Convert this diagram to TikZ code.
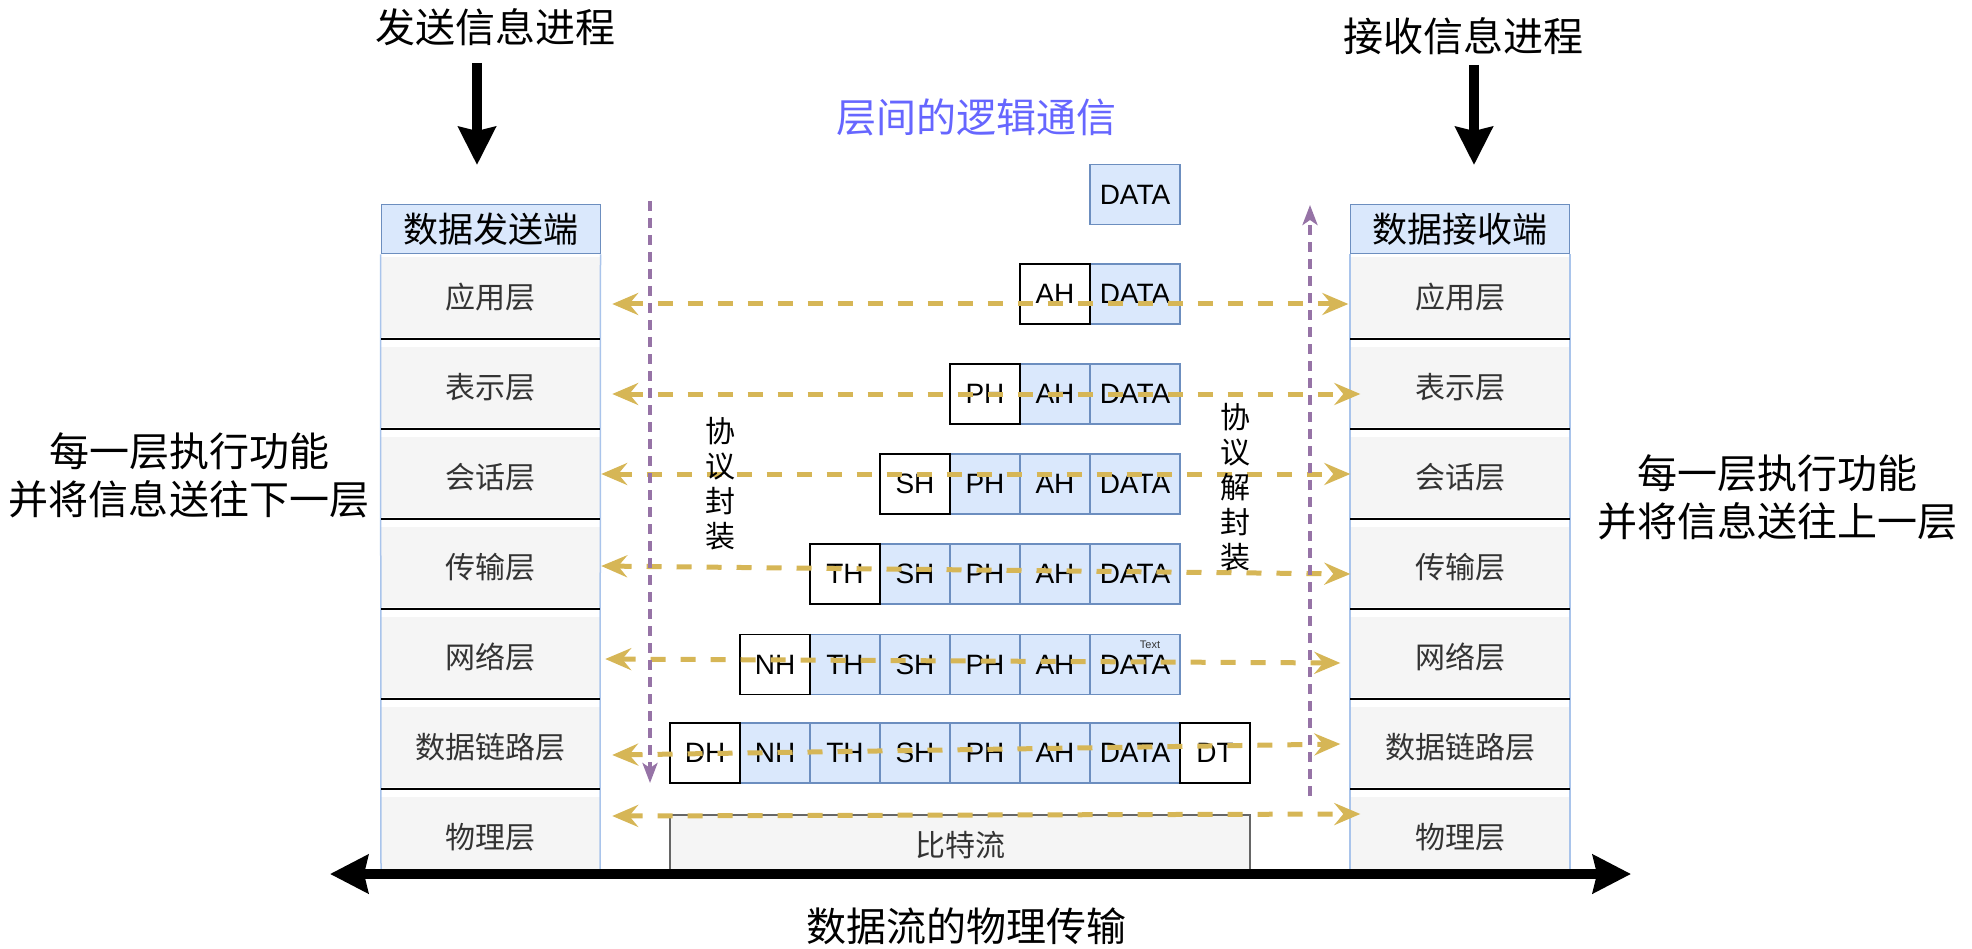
\documentclass[tikz,border=0pt]{standalone}
\usepackage{fontspec}
\setmainfont{Liberation Sans}
\newfontfamily\hanzi{Noto Sans CJK SC}
\usetikzlibrary{arrows.meta, positioning}
\definecolor{goldline}{HTML}{D6B656}
\definecolor{purpleline}{HTML}{9673A6}
\definecolor{cellblue}{HTML}{DAE8FC}
\definecolor{celledge}{HTML}{6C8EBF}
\definecolor{layergray}{HTML}{F5F5F5}
\definecolor{stackedge}{HTML}{A9C4EB}
\definecolor{labelgray}{HTML}{333333}
\definecolor{titleblue}{HTML}{6666FF}
\tikzset{
  bigtext/.style={inner sep=0pt, font=\hanzi\fontsize{40}{48}\selectfont},
  headbox/.style={fill=cellblue, draw=celledge, line width=1pt, minimum width=219pt, minimum height=49pt, inner sep=0pt, font=\hanzi\fontsize{35}{35}\selectfont},
  layer/.style={fill=layergray, minimum width=219pt, minimum height=80pt, inner sep=0pt, text=labelgray, font=\hanzi\fontsize{30}{30}\selectfont},
  cell/.style={fill=cellblue, draw=celledge, line width=1.2pt, minimum width=70pt, minimum height=60pt, inner sep=0pt, outer sep=0pt, font=\fontsize{28}{28}\selectfont},
  newcell/.style={cell, fill=white, draw=black},
  datacell/.style={cell, minimum width=90pt},
  link/.style={draw=goldline, line width=5pt, dash pattern=on 15pt off 15pt, {Stealth[length=26pt,width=22pt,inset=9pt]}-{Stealth[length=26pt,width=22pt,inset=9pt]}},
  wrap/.style={draw=purpleline, line width=3.5pt, dash pattern=on 10pt off 7pt, -{Stealth[length=20pt,width=15pt,inset=5pt]}},
  fat/.style={line width=10pt, -{Stealth[length=38pt,width=37pt,inset=4pt]}},
  sep/.style={line width=1.5pt}
}

\begin{document}
\begin{tikzpicture}[x=1pt, y=-1pt]
  \useasboundingbox (0,0) rectangle (1972,949);
  % titles
  \node[bigtext] (send) at (495,27) {发送信息进程};
  \node[bigtext] (recv) at (1463,36) {接收信息进程};
  \node[bigtext, text=titleblue] (logic) at (976,117) {层间的逻辑通信};
  \node[bigtext, align=center] (downnote) at (189,475) {每一层执行功能\\并将信息送往下一层};
  \node[bigtext, align=center] (upnote) at (1777,497) {每一层执行功能\\并将信息送往上一层};
  \node[bigtext] (phys) at (966,926) {数据流的物理传输};
  % sending stack
  \node[headbox] (sendhead) at (490.5,229.5) {数据发送端};
  \node[layer] (sl1) at (490.5,297) {应用层};
  \node[layer] (sl2) at (490.5,387) {表示层};
  \node[layer] (sl3) at (490.5,477) {会话层};
  \node[layer] (sl4) at (490.5,567) {传输层};
  \node[layer] (sl5) at (490.5,657) {网络层};
  \node[layer] (sl6) at (490.5,747) {数据链路层};
  \node[layer] (sl7) at (490.5,837) {物理层};
  \draw[stackedge, line width=1.5pt] (sendhead.south west) -- (381,870) (sendhead.south east) -- (600,870);
  \draw[sep] (381,339) -- (600,339) (381,429) -- (600,429) (381,519) -- (600,519)
    (381,609) -- (600,609) (381,699) -- (600,699) (381,789) -- (600,789);
  % receiving stack
  \node[headbox] (recvhead) at (1460,229.5) {数据接收端};
  \node[layer] (rl1) at (1460,297) {应用层};
  \node[layer] (rl2) at (1460,387) {表示层};
  \node[layer] (rl3) at (1460,477) {会话层};
  \node[layer] (rl4) at (1460,567) {传输层};
  \node[layer] (rl5) at (1460,657) {网络层};
  \node[layer] (rl6) at (1460,747) {数据链路层};
  \node[layer] (rl7) at (1460,837) {物理层};
  \draw[stackedge, line width=1.5pt] (recvhead.south west) -- (1350,870) (recvhead.south east) -- (1570,870);
  \draw[sep] (1350,339) -- (1570,339) (1350,429) -- (1570,429) (1350,519) -- (1570,519)
    (1350,609) -- (1570,609) (1350,699) -- (1570,699) (1350,789) -- (1570,789);
  % packets
  \node[datacell] (data0) at (1135,194.5) {DATA};
  \node[datacell] (data1) at (1135,294) {DATA};
  \node[newcell, left=0pt of data1] (ah1) {AH};
  \node[datacell] (data2) at (1135,394) {DATA};
  \node[cell, left=0pt of data2] (ah2) {AH};
  \node[newcell, left=0pt of ah2] (ph2) {PH};
  \node[datacell] (data3) at (1135,484) {DATA};
  \node[cell, left=0pt of data3] (ah3) {AH};
  \node[cell, left=0pt of ah3] (ph3) {PH};
  \node[newcell, left=0pt of ph3] (sh3) {SH};
  \node[datacell] (data4) at (1135,574) {DATA};
  \node[cell, left=0pt of data4] (ah4) {AH};
  \node[cell, left=0pt of ah4] (ph4) {PH};
  \node[cell, left=0pt of ph4] (sh4) {SH};
  \node[newcell, left=0pt of sh4] (th4) {TH};
  \node[datacell] (data5) at (1135,664.5) {DATA};
  \node[cell, left=0pt of data5] (ah5) {AH};
  \node[cell, left=0pt of ah5] (ph5) {PH};
  \node[cell, left=0pt of ph5] (sh5) {SH};
  \node[cell, left=0pt of sh5] (th5) {TH};
  \node[newcell, left=0pt of th5] (nh5) {NH};
  \node[datacell] (data6) at (1135,753) {DATA};
  \node[cell, left=0pt of data6] (ah6) {AH};
  \node[cell, left=0pt of ah6] (ph6) {PH};
  \node[cell, left=0pt of ph6] (sh6) {SH};
  \node[cell, left=0pt of sh6] (th6) {TH};
  \node[cell, left=0pt of th6] (nh6) {NH};
  \node[newcell, left=0pt of nh6] (dh6) {DH};
  \node[newcell, right=0pt of data6] (dt6) {DT};
  \node[fill=layergray, draw=black!60, line width=1.2pt, minimum width=580pt, minimum height=60pt, inner sep=0pt,
    text=labelgray, font=\hanzi\fontsize{30}{30}\selectfont] (bits) at (960,845) {比特流};
  % peer links
  \draw[link] ([xshift=12pt,yshift=-7pt]sl1.east) -- ([xshift=-2pt,yshift=-7pt]rl1.west);
  \draw[link] ([xshift=12pt,yshift=-7pt]sl2.east) -- ([xshift=10pt,yshift=-7pt]rl2.west);
  \draw[link] ([xshift=1pt,yshift=3pt]sl3.east) -- ([yshift=3pt]rl3.west);
  \draw[link] ([xshift=1pt,yshift=1pt]sl4.east) -- ([yshift=-7pt]rl4.west);
  \draw[link] ([xshift=5pt,yshift=-2pt]sl5.east) -- ([xshift=-10pt,yshift=-6pt]rl5.west);
  \draw[link] ([xshift=12pt,yshift=-8pt]sl6.east) -- ([xshift=-10pt,yshift=3pt]rl6.west);
  \draw[link] ([xshift=12pt,yshift=21pt]sl7.east) -- ([xshift=10pt,yshift=23pt]rl7.west);
  % wrapping and unwrapping
  \coordinate (wraptop) at (650,201);
  \coordinate (wrapend) at (650,783);
  \coordinate (unwrapbot) at (1310,796);
  \coordinate (unwraptop) at (1310,205);
  \draw[wrap] (wraptop) -- (wrapend);
  \draw[wrap] (unwrapbot) -- (unwraptop);
  \node[align=center, font=\hanzi\fontsize{30}{35}\selectfont] (wraptext) at (720,484) {协\\议\\封\\装};
  \node[align=center, font=\hanzi\fontsize{30}{35}\selectfont] (unwraptext) at (1235,487) {协\\议\\解\\封\\装};
  \node[text=labelgray, font=\fontsize{11}{11}\selectfont, inner sep=0pt] (stray) at (1150,645) {Text};
  % process arrows
  \coordinate (sendfrom) at (477,63);
  \coordinate (sendto) at (477,165);
  \coordinate (recvfrom) at (1474,65);
  \coordinate (recvto) at (1474,165);
  \draw[fat] (sendfrom) -- (sendto);
  \draw[fat] (recvfrom) -- (recvto);
  \coordinate (flowleft) at (330,874);
  \coordinate (flowright) at (1631,874);
  \draw[line width=10pt, {Stealth[length=38pt,width=38pt,inset=4pt]}-{Stealth[length=38pt,width=38pt,inset=4pt]}] (flowleft) -- (flowright);
\end{tikzpicture}
\end{document}
